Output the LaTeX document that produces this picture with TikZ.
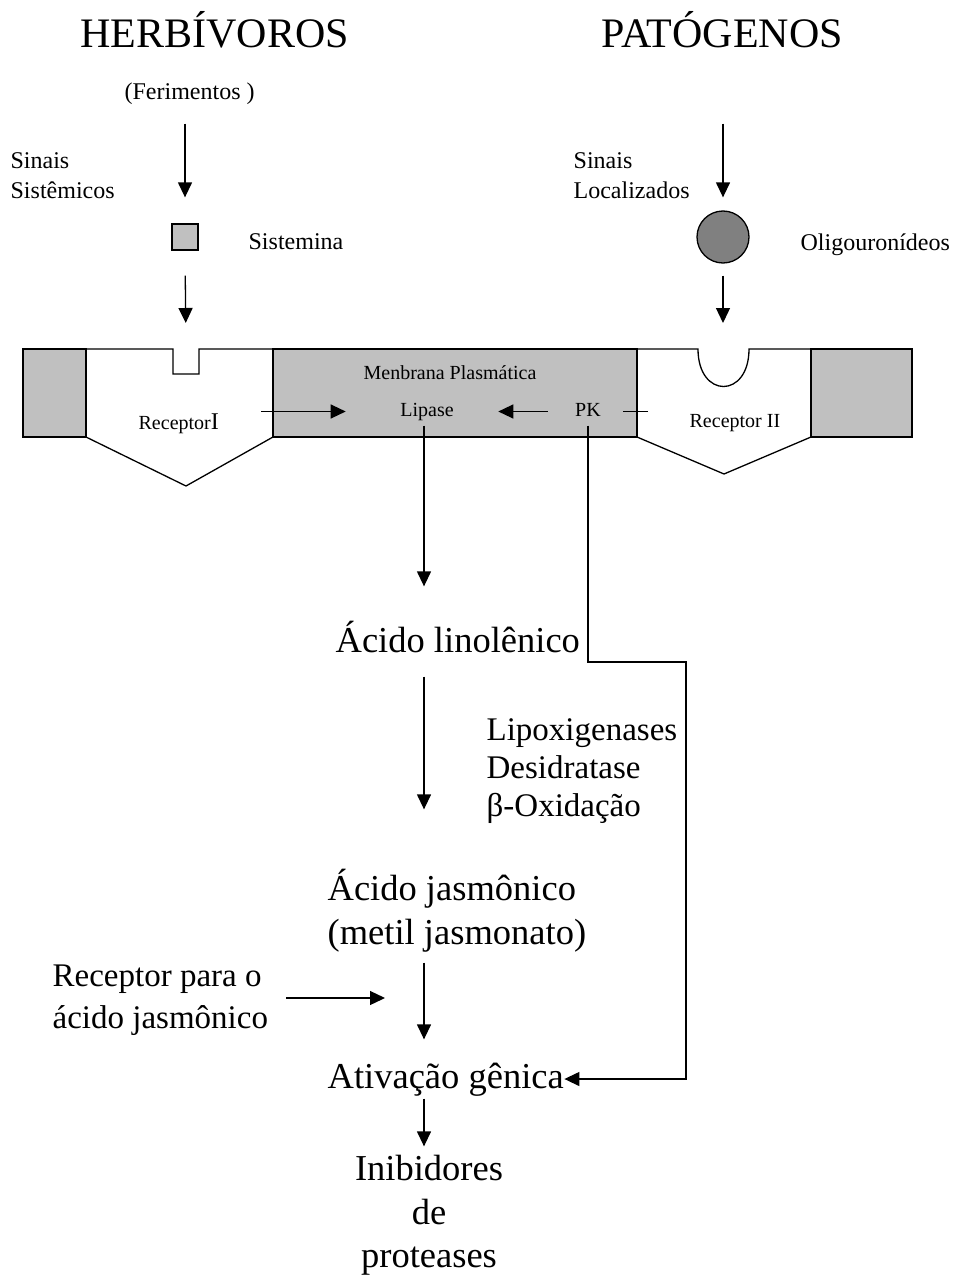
\documentclass[tikz,border=0pt]{standalone}
\usepackage{fontspec}
\setmainfont{Liberation Serif}
\usetikzlibrary{arrows.meta}
\definecolor{cinza}{RGB}{192,192,192}
\definecolor{escuro}{RGB}{128,128,128}
\tikzset{
  seta/.style={-{Triangle[width=14pt,length=15pt]}},
  titulo/.style={font=\fontsize{42}{48}\selectfont,inner sep=0pt,anchor=base west,text height=30pt,text depth=10pt},
  rotulo/.style={font=\fontsize{24}{30}\selectfont,inner sep=0pt,anchor=base west,text height=17pt,text depth=6pt},
  mem/.style={font=\fontsize{20}{24}\selectfont,inner sep=0pt,anchor=base west,text height=14pt,text depth=5pt},
  etapa/.style={font=\fontsize{36.5}{44}\selectfont,inner sep=0pt,anchor=base west,text height=27pt,text depth=9pt},
  lateral/.style={font=\fontsize{33}{40}\selectfont,inner sep=0pt,anchor=base west,text height=24pt,text depth=8pt}
}
\begin{document}
\begin{tikzpicture}[x=1pt,y=-1pt,line width=1.3pt]
\useasboundingbox (0,0) rectangle (954,1279);
% titulos e sinais
\node[titulo] (herb) at (80,48) {HERBÍVOROS};
\node[titulo] (pat) at (601,48) {PATÓGENOS};
\node[rotulo] (ferim) at (124,100) {(Ferimentos )};
\node[rotulo] (sist1) at (10,168) {Sinais};
\node[rotulo] (sist2) at (10,198) {Sistêmicos};
\node[rotulo] (loc1) at (573,168) {Sinais};
\node[rotulo] (loc2) at (573,198) {Localizados};
\node[draw,fill=cinza,minimum size=26pt,inner sep=0pt] (sq) at (185,237) {};
\node[rotulo] (sistemina) at (248,249) {Sistemina};
\node[draw,fill=escuro,circle,minimum size=52pt,inner sep=0pt] (circ) at (723,237) {};
\node[rotulo] (oligo) at (800,250) {Oligouronídeos};
% membrana e receptores
\draw[fill=cinza] (23,349) rectangle (86,437) (273,349) rectangle (637,437) (811,349) rectangle (912,437);
\draw (86,349) -- (173,349) -- (173,374) -- (199,374) -- (199,349) -- (273,349) -- (273,437) -- (186,486) -- (86,437) -- cycle;
\draw (637,349) -- (698,349) .. controls (698,399) and (749,399) .. (749,349) -- (811,349) -- (811,437) -- (724,474) -- (637,437) -- cycle;
\coordinate (encI) at (186,349);
\coordinate (encII) at (723,349);
\node[mem,anchor=base] (menb) at (450,379) {Menbrana Plasmática};
\node[mem,anchor=base] (lipase) at (427,416) {Lipase};
\node[mem,anchor=base] (pk) at (588,416) {PK};
\node[mem] (recI) at (138,429) {Receptor{\fontsize{24}{24}\selectfont I}};
\node[mem] (recII) at (689,427) {Receptor II};
% via do acido jasmonico
\node[etapa] (linol) at (335,652) {Ácido linolênico};
\node[lateral] (enz1) at (486,740) {Lipoxigenases};
\node[lateral] (enz2) at (486,778) {Desidratase};
\node[lateral] (enz3) at (486,816) {β-Oxidação};
\node[etapa] (jasm) at (327,900) {Ácido jasmônico};
\node[etapa] (metil) at (327,944) {(metil jasmonato)};
\node[lateral] (recJ1) at (52,986) {Receptor para o};
\node[lateral] (recJ2) at (52,1028) {ácido jasmônico};
\node[etapa] (ativ) at (327,1088) {Ativação gênica};
\node[etapa,anchor=base] (inib1) at (429,1180) {Inibidores};
\node[etapa,anchor=base] (inib2) at (429,1224) {de};
\node[etapa,anchor=base] (inib3) at (429,1267) {proteases};
\coordinate (eixo) at (424,0);
\coordinate (alvoJ) at (385,998);
\coordinate (dobra) at (686,662);
% setas
\draw[seta,shorten <=17pt,shorten >=26pt] (sq.north |- ferim.south) -- (sq.north);
\draw[seta,shorten <=25pt,shorten >=26pt] (sq.south) -- (encI);
\draw[seta,shorten <=65pt,shorten >=13pt] (circ.north |- pat.south) -- (circ.north);
\draw[seta,shorten <=12pt,shorten >=26pt] (circ.south) -- (encII);
\draw[seta,shorten <=42pt,shorten >=54pt] (recI.east |- lipase.west) -- (lipase.west);
\draw[seta,shorten <=27pt,shorten >=44pt] (pk.west) -- (lipase.east |- pk.west);
\draw[shorten <=41pt,shorten >=22pt] (recII.west |- pk.east) -- (pk.east);
\draw[seta,shorten <=4pt,shorten >=38pt] (lipase.south -| eixo) -- (linol.north -| eixo);
\draw[seta,shorten <=15pt,shorten >=63pt] (linol.south -| eixo) -- (jasm.north -| eixo);
\draw[seta,shorten <=9pt,shorten >=21pt] (metil.south -| eixo) -- (ativ.north -| eixo);
\draw[seta,shorten <=24pt] (recJ1.east |- alvoJ) -- (alvoJ);
\draw[seta,shorten <=4pt] (pk.south) |- (dobra) |- (ativ.east);
\draw[seta,shorten <=1pt,shorten >=6pt] (ativ.south -| eixo) -- (inib1.north -| eixo);
\end{tikzpicture}
\end{document}
